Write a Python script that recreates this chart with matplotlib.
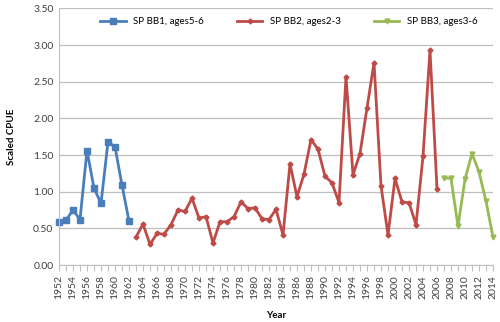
import numpy as np
import matplotlib.pyplot as plt

plt.rcParams['font.family'] = ['Lato', 'DejaVu Sans']

# SP BB1, ages 5-6
years_bb1 = list(range(1952, 1963))
cpue_bb1 = [0.59, 0.61, 0.75, 0.62, 1.56, 1.05, 0.84, 1.68, 1.61, 1.09, 0.60]

# SP BB2, ages 2-3
years_bb2 = list(range(1963, 2007))
cpue_bb2 = [0.38, 0.56, 0.28, 0.43, 0.42, 0.55, 0.75, 0.73, 0.91, 0.64,
            0.66, 0.30, 0.59, 0.59, 0.66, 0.86, 0.77, 0.78, 0.63, 0.62,
            0.76, 0.41, 1.38, 0.93, 1.24, 1.71, 1.58, 1.21, 1.12, 0.85,
            2.57, 1.23, 1.52, 2.14, 2.76, 1.08, 0.41, 1.18, 0.86, 0.85,
            0.55, 1.48, 2.93, 1.04]

# SP BB3, ages 3-6
years_bb3 = list(range(2007, 2015))
cpue_bb3 = [1.19, 1.18, 0.53, 1.17, 1.52, 1.27, 0.87, 0.38]

fig = plt.figure(figsize=(5.0, 3.22), dpi=100)
ax = fig.add_axes([0.118, 0.177, 0.868, 0.797])

ax.plot(years_bb1, cpue_bb1, color='#4A7EBB', lw=2, marker='s', ms=4.5,
        label='SP BB1, ages5-6', clip_on=False)
ax.plot(years_bb2, cpue_bb2, color='#BE4B48', lw=2, marker='D', ms=2.5,
        label='SP BB2, ages2-3', clip_on=False)
ax.plot(years_bb3, cpue_bb3, color='#98B954', lw=2, marker='v', ms=3.5,
        label='SP BB3, ages3-6', clip_on=False)

ax.set_xlim(1952, 2014)
ax.set_ylim(0, 3.5)
ax.set_yticks(np.arange(0, 3.51, 0.5))
ax.set_yticklabels([f'{v:.2f}' for v in np.arange(0, 3.51, 0.5)], fontsize=7.5,
                   color='#404040')
ax.set_xticks(range(1952, 2015, 2))
ax.set_xticks(range(1952, 2015), minor=True)
ax.set_xticklabels([str(y) for y in range(1952, 2015, 2)], rotation=90,
                   fontsize=7.5, color='#404040')

ax.grid(axis='y', color='#BFBFBF', lw=0.9)
ax.set_axisbelow(True)
for side in ['top', 'right']:
    ax.spines[side].set_visible(False)
for side in ['left', 'bottom']:
    ax.spines[side].set_color('#BFBFBF')
ax.tick_params(axis='x', which='both', length=4, color='#BFBFBF', width=0.8)
ax.tick_params(axis='y', length=0, pad=4)

ax.set_ylabel('Scaled CPUE', fontsize=7, fontweight='bold', labelpad=12)
ax.set_xlabel('Year', fontsize=7, fontweight='bold', labelpad=8)

ax.legend(loc='upper center', ncol=3, frameon=False, fontsize=7,
          bbox_to_anchor=(0.53, 1.0), columnspacing=3.4, handlelength=2.6)

fig.savefig('out.png', dpi=100)
